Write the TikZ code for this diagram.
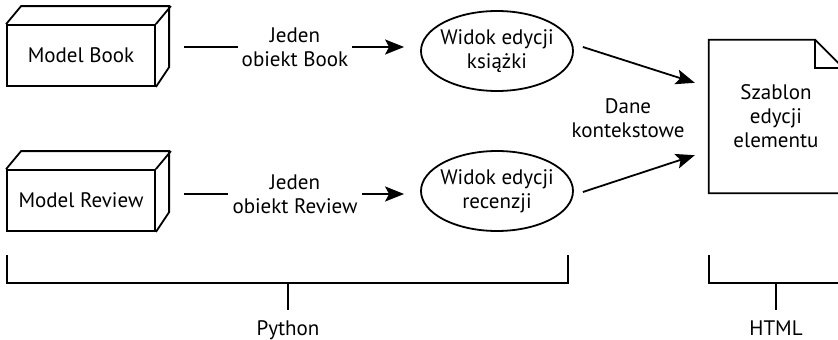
\documentclass[tikz,border=0pt]{standalone}
\usepackage{fontspec}
\setmainfont{PT Sans}
\usetikzlibrary{arrows.meta,calc,shapes.geometric}

\begin{document}
\begin{tikzpicture}[x=1pt,y=-1pt,font=\fontsize{21}{24}\selectfont]
\tikzstyle{model} = [rectangle, minimum width=148pt, minimum height=61pt, text centered, draw=black, line width=1.8pt]
\tikzstyle{view} = [ellipse, minimum width=152pt, minimum height=80pt, inner xsep=-15pt, inner ysep=0pt, align=center, draw=black, line width=1.8pt]
\tikzstyle{plain} = [align=center, inner sep=4pt]
\tikzstyle{line} = [line width=1.8pt]
\tikzstyle{arrow} = [line width=1.8pt,-{Stealth[length=19pt,width=15pt,inset=4pt]}]
%
\useasboundingbox (0,0) rectangle (838,340);
%
\node (book) [model] at (81,55.5) {Model Book};
\node (review) [model] at (81,200.5) {Model Review};
\foreach \m in {book,review} {
  \draw [line] (\m.north west) -- ++(15,-18) -- ++(148,0) -- ++(0,61) -- (\m.south east);
  \draw [line] (\m.north east) -- ++(15,-18);
}
\node (jedenbook) [plain] at (295,47) {Jeden\\obiekt Book};
\node (jedenreview) [plain] at (295,194) {Jeden\\obiekt Review};
\node (widokbook) [view] at (497,51) {Widok edycji\\książki};
\node (widokreview) [view] at (497,191) {Widok edycji\\recenzji};
\node (dane) [plain] at (628,118) {Dane\\kontekstowe};
\node (szablon) [plain, minimum width=134pt, minimum height=153pt] at (776,116.5) {Szablon\\edycji\\elementu};
\draw [line] (szablon.south west) -- (szablon.north west) -- ($(szablon.north east)+(-28,0)$)
  -- ($(szablon.north east)+(0,28)$) -- (szablon.south east) -- cycle;
\draw [line] ($(szablon.north east)+(-28,0)$) |- ($(szablon.north east)+(0,28)$);
%
\draw [line] ([xshift=28pt,yshift=8.5pt]book.east) -- (jedenbook.west);
\draw [arrow, shorten >=16pt] (jedenbook.east) -- (jedenbook.east -| widokbook.west);
\draw [line] ([xshift=28pt,yshift=6.5pt]review.east) -- (jedenreview.west);
\draw [arrow, shorten >=16pt] (jedenreview.east) -- (jedenreview.east -| widokreview.west);
\draw [arrow] ([xshift=9pt,yshift=4pt]widokbook.east) -- ([xshift=-14pt,yshift=-43pt]szablon.north west);
\draw [arrow] ([xshift=9pt,yshift=-1pt]widokreview.east) -- ([xshift=-14pt,yshift=38pt]szablon.south west);
%
\coordinate (pymid) at (288,283);
\coordinate (pytick) at (288,310);
\coordinate (htmlmid) at (776,283);
\coordinate (htmltick) at (776,310);
\draw [line] (7,255) |- (568,283) -- (568,255);
\draw [line] (709,255) |- (843,283) -- (843,255);
\draw [line] (pymid) -- (pytick);
\draw [line] (htmlmid) -- (htmltick);
\node (python) [anchor=base] at (288,335) {Python};
\node (html) [anchor=base] at (776,335) {HTML};
\end{tikzpicture}
\end{document}
